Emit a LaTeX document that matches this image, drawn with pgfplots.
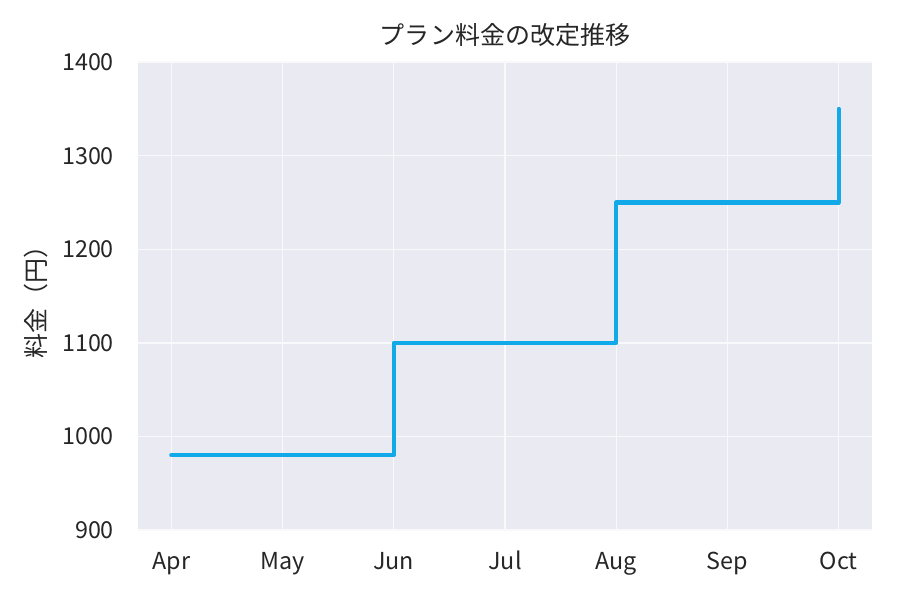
\documentclass[border=0pt]{standalone}
\usepackage{fontspec}
\setmainfont{Noto Sans CJK JP}
\usepackage{pgfplots}
\pgfplotsset{compat=1.18}
\definecolor{bgpanel}{HTML}{EAEAF2}
\definecolor{stepblue}{HTML}{12A9E9}
\definecolor{txt}{HTML}{262626}
\begin{document}
\begin{tikzpicture}
\begin{axis}[
    scale only axis,
    width=352.3pt,
    height=224.6pt,
    xmin=-0.3, xmax=6.3,
    ymin=900, ymax=1400,
    xtick={0,1,2,3,4,5,6},
    xticklabels={Apr,May,Jun,Jul,Aug,Sep,Oct},
    ytick={900,1000,1100,1200,1300,1400},
    /pgf/number format/assume math mode=true,
    /pgf/number format/1000 sep={},
    tick label style={font=\fontsize{11.2}{13}\selectfont, text=txt},
    yticklabel style={xshift=-8pt},
    xticklabel style={yshift=-7pt, text height=1.5ex, text depth=0.3ex},
    axis background/.style={fill=bgpanel},
    axis line style={draw=none},
    tick style={draw=none},
    grid=major,
    major grid style={white!70!bgpanel, line width=0.6pt},
    title={プラン料金の改定推移},
    title style={font=\fontsize{12}{14}\selectfont, text=txt, yshift=-2pt},
    ylabel={料金（円）},
    ylabel style={font=\fontsize{12}{14}\selectfont, text=txt, yshift=0pt},
]
\addplot[const plot mark left, no marks, color=stepblue, line width=2pt, line cap=round, line join=round] coordinates {
    (0, 980) (1, 980) (2, 1100) (3, 1100) (4, 1250) (5, 1250) (6, 1350)
};
\end{axis}
\path[use as bounding box] ([shift={(-66.2pt,-33.6pt)}]current axis.south west) rectangle ([shift={(13.4pt,29.8pt)}]current axis.north east);
\end{tikzpicture}
\end{document}
